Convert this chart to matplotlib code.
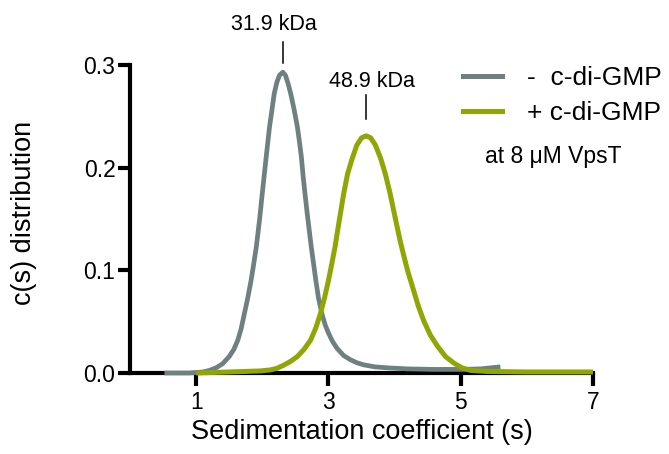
import numpy as np
import matplotlib
matplotlib.use("Agg")
import matplotlib.pyplot as plt
from matplotlib.lines import Line2D

plt.rcParams["font.family"] = ["Liberation Sans", "DejaVu Sans"]

# c(s) without c-di-GMP
s_minus = [0.52, 0.9, 1.1, 1.2, 1.3, 1.4, 1.5, 1.57, 1.63, 1.68, 1.73, 1.78, 1.83, 1.87,
           1.91, 1.96, 2.0, 2.03, 2.06, 2.11, 2.15, 2.18, 2.22, 2.26, 2.31, 2.35, 2.39,
           2.43, 2.48, 2.53, 2.56, 2.59, 2.62, 2.65, 2.68, 2.74, 2.81, 2.85, 2.9, 2.95,
           3.0, 3.06, 3.13, 3.23, 3.33, 3.43, 3.53, 3.7, 3.9, 4.2, 4.6, 5.0, 5.3, 5.45, 5.6]
c_minus = [0.0, 0.0, 0.001, 0.0025, 0.005, 0.009, 0.016, 0.023, 0.032, 0.043, 0.058, 0.073,
           0.09, 0.106, 0.123, 0.15, 0.175, 0.193, 0.211, 0.24, 0.258, 0.272, 0.283, 0.29,
           0.293, 0.29, 0.282, 0.272, 0.257, 0.24, 0.226, 0.211, 0.19, 0.172, 0.155, 0.123,
           0.09, 0.073, 0.058, 0.047, 0.039, 0.031, 0.024, 0.017, 0.013, 0.01, 0.008, 0.006,
           0.005, 0.004, 0.0035, 0.0035, 0.004, 0.005, 0.006]

# c(s) with c-di-GMP
s_plus = [1.0, 1.5, 1.97, 2.12, 2.22, 2.32, 2.42, 2.53, 2.63, 2.73, 2.81, 2.88, 2.94, 3.0,
          3.05, 3.1, 3.16, 3.23, 3.29, 3.36, 3.43, 3.5, 3.57, 3.64, 3.71, 3.79, 3.86, 3.93,
          4.02, 4.08, 4.14, 4.2, 4.29, 4.36, 4.44, 4.54, 4.65, 4.77, 4.9, 5.02, 5.15, 5.4,
          6.0, 7.0]
c_plus = [0.0, 0.001, 0.002, 0.003, 0.0045, 0.0075, 0.011, 0.016, 0.023, 0.032, 0.044, 0.058,
          0.073, 0.09, 0.106, 0.123, 0.147, 0.1745, 0.194, 0.209, 0.222, 0.229, 0.231, 0.229,
          0.222, 0.209, 0.194, 0.1755, 0.148, 0.13, 0.114, 0.099, 0.08, 0.065, 0.051, 0.037,
          0.026, 0.016, 0.0095, 0.005, 0.0025, 0.0015, 0.001, 0.001]

labels = ["-  c-di-GMP", "+ c-di-GMP"]
masses = ["31.9 kDa", "48.9 kDa"]
x_ticks = [1, 3, 5, 7]
y_ticks = [0.0, 0.1, 0.2, 0.3]

gray = "#6e807f"
green = "#8fa605"

fig = plt.figure(figsize=(6.69, 4.54), dpi=100)
ax = fig.add_axes([130 / 669, 1 - 373 / 454, 463 / 669, 308 / 454])

ax.plot(s_minus, c_minus, color=gray, lw=3.4, solid_capstyle="butt",
        solid_joinstyle="round", clip_on=False, zorder=3)
ax.plot(s_plus, c_plus, color=green, lw=3.6, solid_capstyle="butt",
        solid_joinstyle="round", clip_on=False, zorder=4)

# peak labels: short marker line above each peak, text above that
# (gap, line top, text baseline) above the peak, and text shift in points
peak_marks = [(s_minus, c_minus, masses[0], 0.009, 0.029, 0.041, -6.5),
              (s_plus, c_plus, masses[1], 0.016, 0.040, 0.048, 4.5)]
for s, c, txt, g0, g1, gt, dx in peak_marks:
    i = int(np.argmax(c))
    ax.plot([s[i], s[i]], [c[i] + g0, c[i] + g1], color="black", lw=1.1, clip_on=False)
    ax.annotate(txt, (s[i], c[i] + gt), xytext=(dx, 0), textcoords="offset points",
                ha="center", va="baseline", fontsize=15.5, annotation_clip=False)

ax.set_xlim(0, 7)
ax.set_ylim(0, 0.3)
ax.set_xticks(x_ticks)
ax.set_yticks(y_ticks)
ax.set_yticklabels([f"{v:.1f}" for v in y_ticks])

for side in ["top", "right"]:
    ax.spines[side].set_visible(False)
for side in ["left", "bottom"]:
    ax.spines[side].set_linewidth(3)
    ax.spines[side].set_capstyle("projecting")
ax.tick_params(axis="both", direction="out", length=9, width=3, labelsize=16.5)
ax.tick_params(axis="y", pad=1.5)
ax.tick_params(axis="x", pad=4)

ax.set_xlabel("Sedimentation coefficient (s)", fontsize=19.5)
ax.set_ylabel("c(s) distribution", fontsize=19.5)
ax.xaxis.set_label_coords(0.5, -0.15)
ax.yaxis.set_label_coords(-0.2, 0.52)

handles = [Line2D([0], [0], color=gray, lw=3.6), Line2D([0], [0], color=green, lw=3.6)]
fig.legend(handles, labels, loc="upper left", bbox_to_anchor=(463 / 669, 1 - 66 / 454),
           frameon=False, fontsize=19, handlelength=1.48, handletextpad=0.95,
           labelspacing=0.42, borderpad=0, borderaxespad=0)

fig.text(485 / 669, 1 - 157 / 454, "at 8 μM VpsT", fontsize=16.5, va="center", ha="left")

fig.savefig("out.png", dpi=100, facecolor="white")
